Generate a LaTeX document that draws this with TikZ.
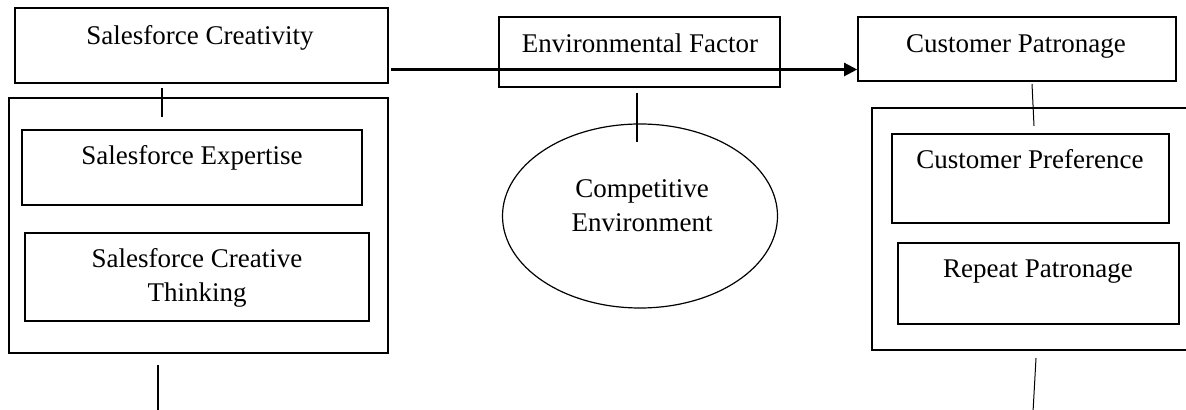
\documentclass[tikz,border=0pt]{standalone}
\usepackage{fontspec}
\setmainfont{Liberation Serif}
\usetikzlibrary{arrows.meta,shapes.geometric}
\newcommand{\PxUnit}{0.5pt}
\newcommand{\PlaceBox}[5]{%
  % #1 name, #2 left, #3 top, #4 right, #5 bottom (in pixels)
  \node[box,minimum width={(#4-#2)*\PxUnit},minimum height={(#5-#3)*\PxUnit}]
    (#1) at ({(#2+#4)/2},{(#3+#5)/2}) {};
}

\begin{document}
\begin{tikzpicture}[
  x=\PxUnit, y=-\PxUnit,
  box/.style={rectangle,draw=black,line width=0.8pt,inner sep=0pt},
  lbl/.style={font=\fontsize{13.5}{17}\selectfont,inner sep=0pt,align=center,anchor=base},
  tick/.style={line width=0.9pt},
  thintick/.style={line width=0.5pt},
  flow/.style={line width=1.1pt,-{Triangle[length=6.5pt,width=6.5pt]}}
]
\useasboundingbox (0,0) rectangle (1186,410);
\clip (0,0) rectangle (1186,410);

% Left block
\PlaceBox{sc}{15}{8}{388}{83}
\PlaceBox{scgroup}{9}{98}{388}{353}
\PlaceBox{sexp}{22}{130}{362}{205}
\PlaceBox{sthink}{25}{233}{369}{321}
\node[lbl] (sctext) at (200,45) {Salesforce Creativity};
\node[lbl] (sexptext) at (192,165) {Salesforce Expertise};
\node[lbl] (sthinktext) at (197,302) {Salesforce Creative\\Thinking};

% Middle block
\PlaceBox{env}{499}{17}{780}{87}
\node[lbl] (envtext) at (640,53) {Environmental Factor};
\node[ellipse,draw=black,line width=0.6pt,minimum width={275*\PxUnit},
  minimum height={184*\PxUnit},inner sep=0pt] (comp) at (640,216) {};
\node[lbl] (comptext) at (642,232) {Competitive\\Environment};

% Right block (outer box runs off the page)
\PlaceBox{cp}{858}{17}{1176}{81}
\PlaceBox{cpgroup}{872}{108}{1220}{350}
\PlaceBox{cpref}{892}{134}{1169}{223}
\PlaceBox{rpat}{898}{243}{1179}{324}
\node[lbl] (cptext) at (1016,53) {Customer Patronage};
\node[lbl] (cpreftext) at (1030,169) {Customer Preference};
\node[lbl] (rpattext) at (1038,278) {Repeat Patronage};

% Free ends of the short links
\coordinate (flowstart) at (391,69.5);
\coordinate (sctop) at (162,88);
\coordinate (scbot) at (162,117);
\coordinate (leftdowna) at (158,365);
\coordinate (leftdownb) at (158,412);
\coordinate (envtop) at (637,93);
\coordinate (envbot) at (637,142);
\coordinate (cptop) at (1032,84);
\coordinate (cpbot) at (1034,126);
\coordinate (rightdowna) at (1036,358);
\coordinate (rightdownb) at (1033,412);

% Links
\draw[flow] (flowstart) -- (flowstart -| cp.west);
\draw[tick] (sctop) -- (scbot);
\draw[tick] (leftdowna) -- (leftdownb);
\draw[tick] (envtop) -- (envbot);
\draw[thintick] (cptop) -- (cpbot);
\draw[thintick] (rightdowna) -- (rightdownb);

\end{tikzpicture}
\end{document}
